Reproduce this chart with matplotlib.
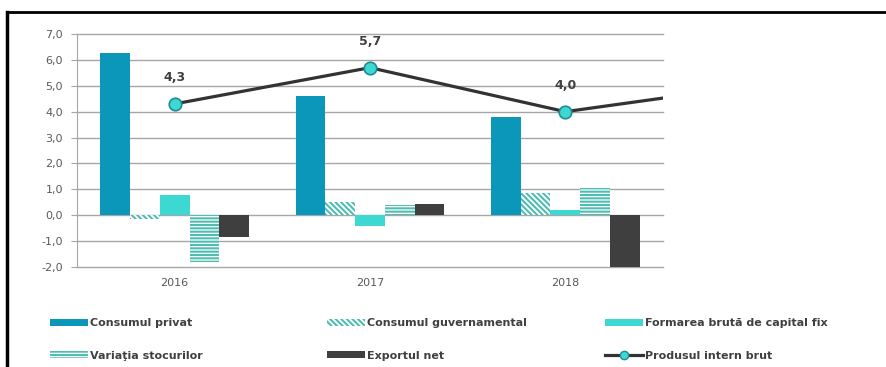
import matplotlib.pyplot as plt
import numpy as np
from matplotlib.lines import Line2D
from matplotlib.patches import Patch

# Contributii la cresterea PIB (puncte procentuale)
years = ['2016', '2017', '2018']
consum_privat = [6.25, 4.6, 3.8]
consum_guvern = [-0.15, 0.5, 0.85]
formarea_bruta = [0.8, -0.4, 0.2]
variatia_stoc = [-1.8, 0.4, 1.05]
export_net = [-0.85, 0.45, -2.0]
# PIB - the series continues past 2018 (clipped at the plot edge)
pib_years = ['2016', '2017', '2018', '2019']
pib = [4.3, 5.7, 4.0, 5.05]

yticks = np.arange(-2, 8, 1)

c_privat = '#0A97B9'
c_teal = '#4FBDB2'
c_formare = '#3DD8D2'
c_export = '#3F3F3F'
c_text = '#595959'
h_diag = '\\\\\\\\\\\\'
h_horiz = '-----'

plt.rcParams['hatch.linewidth'] = 1.5

fig = plt.figure(figsize=(8.87, 3.67), dpi=100)
ax = fig.add_axes([77/887, 1-267/367, (663-77)/887, (267-34)/367])

x = np.arange(len(years))
w = 0.152

ax.bar(x - 2*w, consum_privat, w, color=c_privat, lw=0, zorder=3)
ax.bar(x - w, consum_guvern, w, facecolor='white', edgecolor=c_teal, hatch=h_diag, lw=0, zorder=3)
ax.bar(x, formarea_bruta, w, color=c_formare, lw=0, zorder=3)
ax.bar(x + w, variatia_stoc, w, facecolor='white', edgecolor=c_teal, hatch=h_horiz, lw=0, zorder=3)
ax.bar(x + 2*w, export_net, w, color=c_export, lw=0, zorder=3)

xp = np.arange(len(pib_years))
ax.plot(xp, pib, color='#333333', lw=2.3, marker='o', markersize=9,
        markerfacecolor=c_formare, markeredgecolor='#1E8C96', markeredgewidth=1.2, zorder=4)
for i in range(len(years)):
    ax.text(xp[i], pib[i] + 0.75, f'{pib[i]:.1f}'.replace('.', ','), ha='center', va='bottom',
            fontsize=9, fontweight='bold', color='#404040')

ax.set_xlim(-0.5, 2.5)
ax.set_ylim(-2, 7)
ax.set_yticks(yticks)
ax.set_yticklabels([f'{v:.1f}'.replace('.', ',') for v in yticks], fontsize=8, color=c_text)
ax.set_xticks(x)
ax.set_xticklabels(years, fontsize=8, color=c_text)
ax.tick_params(axis='x', length=0, pad=8)
ax.tick_params(axis='y', length=4, color='#A6A6A6', pad=6)
ax.grid(axis='y', color='#A6A6A6', lw=1.0, zorder=0)
for gl in ax.get_ygridlines():
    gl.set_clip_on(False)
for s in ['top', 'right', 'bottom']:
    ax.spines[s].set_visible(False)
ax.spines['left'].set_color('#A6A6A6')

# legend, three columns placed separately
leg_font = dict(size=8, weight='bold')
cols = [
    (50, [Patch(facecolor=c_privat, lw=0),
          Patch(facecolor='white', edgecolor=c_teal, hatch=h_horiz, lw=0)],
     ['Consumul privat', 'Variaţia stocurilor']),
    (327, [Patch(facecolor='white', edgecolor=c_teal, hatch=h_diag, lw=0),
           Patch(facecolor=c_export, lw=0)],
     ['Consumul guvernamental', 'Exportul net']),
    (605, [Patch(facecolor=c_formare, lw=0),
           Line2D([], [], color='#333333', lw=2.3, marker='o', markersize=6,
                  markerfacecolor=c_formare, markeredgecolor='#1E8C96')],
     ['Formarea brută de capital fix', 'Produsul intern brut']),
]
for xpix, handles, labels in cols:
    leg = fig.legend(handles, labels, loc='upper left', bbox_to_anchor=(xpix/887, 1-318/367),
                     frameon=False, prop=leg_font, handlelength=3.4, handleheight=0.6,
                     handletextpad=0.2, labelspacing=2.05, borderaxespad=0, borderpad=0)
    for t in leg.get_texts():
        t.set_color('#404040')

# outer frame (top and left)
fig.add_artist(Line2D([7/887, 1], [1-12/367, 1-12/367], transform=fig.transFigure, color='black', lw=2))
fig.add_artist(Line2D([7/887, 7/887], [0, 1-12/367], transform=fig.transFigure, color='black', lw=2.5))

fig.savefig('out.png', dpi=100)
